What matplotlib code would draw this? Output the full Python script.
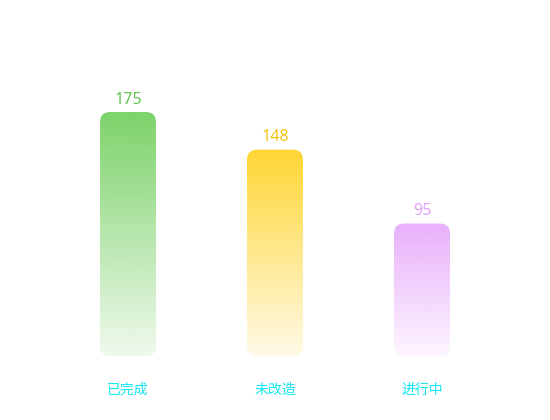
import numpy as np
import matplotlib
matplotlib.use("Agg")
import matplotlib.pyplot as plt
from matplotlib.patches import FancyBboxPatch
from matplotlib.colors import to_rgb

categories = ["已完成", "未改造", "进行中"]
values = [175, 148, 95]
top_colors = ["#7dd36a", "#ffd633", "#e9b0fb"]
label_colors = ["#62c44e", "#f3c414", "#e0a2f5"]
cat_color = "#10e8f2"

plt.rcParams['font.family'] = ['Noto Sans CJK SC', 'DejaVu Sans']

W, H = 550, 420
fig = plt.figure(figsize=(W / 100, H / 100), dpi=100)
ax = fig.add_axes([0, 0, 1, 1])
ax.set_axis_off()

px_x = 147.0          # pixels per category unit
px_y = 244.0 / 175.0  # pixels per value unit
x0_px = 128.0
base_px = H - 356.0
ax.set_xlim(-x0_px / px_x, (W - x0_px) / px_x)
ax.set_ylim(-base_px / px_y, (H - base_px) / px_y)

bw = 56.0 / px_x
r_px = 10.0
rs = r_px / px_x
aspect = (1 / px_y) / (1 / px_x)

for i, (v, c) in enumerate(zip(values, top_colors)):
    left = i - bw / 2
    patch = FancyBboxPatch((left, 0), bw, v,
                           boxstyle=f"round,pad=0,rounding_size={rs}",
                           mutation_aspect=aspect,
                           facecolor="none", edgecolor="none")
    ax.add_patch(patch)
    n = 256
    rgb = np.array(to_rgb(c))
    alpha = np.linspace(1.0, 0.12, n)
    img = np.zeros((n, 1, 4))
    img[:, 0, :3] = rgb
    img[:, 0, 3] = alpha
    im = ax.imshow(img, extent=(left, left + bw, 0, v), aspect='auto',
                   interpolation='bilinear', origin='upper', zorder=2)
    im.set_clip_path(patch)
    ax.annotate(str(v), (i, v), xytext=(0, 3), textcoords='offset points',
                ha='center', va='bottom', color=label_colors[i], fontsize=11.5,
                family=['Noto Sans', 'DejaVu Sans'])
    ax.annotate(categories[i], (i, 0), xytext=(0, -24), textcoords='offset points',
                ha='center', va='center', color=cat_color, fontsize=10,
                fontweight='medium')

fig.savefig("out.png", dpi=100)
